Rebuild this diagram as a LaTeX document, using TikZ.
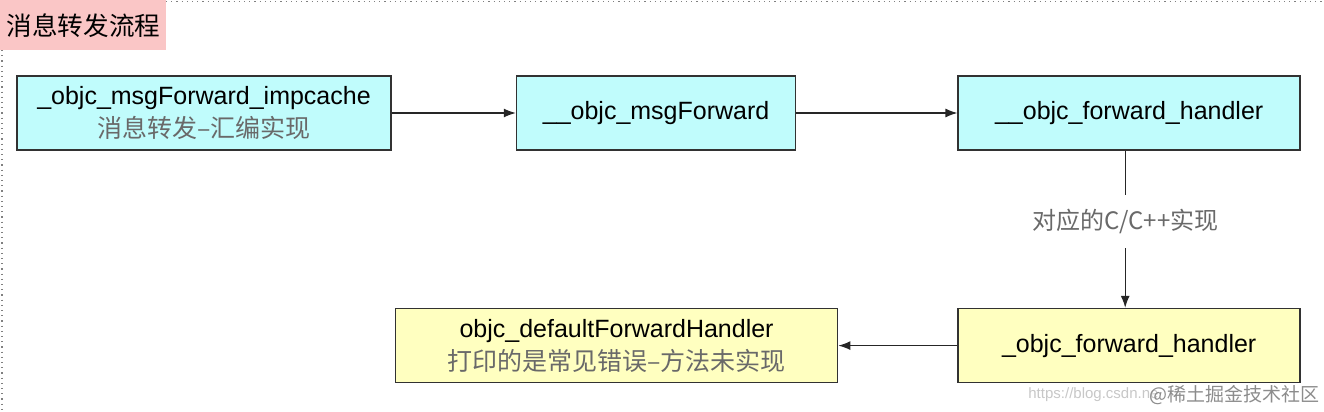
\documentclass[tikz,border=0pt]{standalone}
\usepackage{fontspec}
\setmainfont{Liberation Sans}
\newfontfamily\cjk{Noto Sans CJK SC}
\usepackage{tikz}
\usetikzlibrary{positioning,arrows.meta}
\definecolor{boxcyan}{RGB}{192,252,252}
\definecolor{boxyellow}{RGB}{255,255,192}
\definecolor{tagpink}{RGB}{250,198,198}
\definecolor{subgray}{RGB}{105,105,105}
\definecolor{edgegray}{RGB}{50,50,50}

\begin{document}
\begin{tikzpicture}[x=1pt, y=1pt, box/.style={rectangle, draw = edgegray, line width = .8pt, minimum height = 37pt, inner sep = 0pt, align = center, font = \fontsize{12.5}{16.5}\selectfont}, flow/.style={-{Latex[length=6pt, width=4.5pt]}, line width = .6pt, draw = black!85}]

\useasboundingbox (0,0) rectangle (662,-206);

% frame and title
\draw[dotted, gray, line width = .6pt] (83,-0.6)--(662,-0.6);
\draw[dotted, gray, line width = .6pt] (1,-25)--(1,-206);
\node(title) [rectangle, fill = tagpink, anchor = north west, minimum width = 83pt, minimum height = 25pt, inner sep = 0pt, font = \cjk\fontsize{12.8}{14}\selectfont, text = black] at (0,0) {消息转发流程};

% first row
\node(impcache) [box, fill = boxcyan, minimum width = 187pt] at (102,-56.5) {\_objc\_msgForward\_impcache\\{\cjk\color{subgray}消息转发–汇编实现}};

\node(msgforward) [box, fill = boxcyan, minimum width = 139.5pt, right = 62pt of impcache] {\_\_objc\_msgForward};

\node(forwardhandler) [box, fill = boxcyan, minimum width = 171pt, right = 80.5pt of msgforward] {\_\_objc\_forward\_handler};

% second row
\node(cforwardhandler) [box, fill = boxyellow, minimum width = 171pt, below = 78.5pt of forwardhandler] {\_objc\_forward\_handler};

\node(defaulthandler) [box, fill = boxyellow, minimum width = 221pt, left = 59.5pt of cforwardhandler] {objc\_defaultForwardHandler\\{\cjk\color{subgray}打印的是常见错误–方法未实现}};

\draw[flow] (impcache)--(msgforward);
\draw[flow] (msgforward)--(forwardhandler);
\draw[flow] ([xshift=-2pt]forwardhandler.south)--node[pos = .45, fill = white, inner xsep = 3pt, inner ysep = 7pt, font = \cjk\fontsize{12}{14}\selectfont, text = subgray] {对应的C/C++实现} ([xshift=-2pt]cforwardhandler.north);
\draw[flow] (cforwardhandler)--(defaulthandler);

% watermark
\node(csdn) [anchor = west, font = \fontsize{7.5}{9}\selectfont, text = black!22, inner sep = 0pt] at (514,-197.5) {https://blog.csdn.ne};
\node(juejin) [anchor = east, font = \cjk\fontsize{9.5}{11}\selectfont, text = black!45, inner sep = 0pt] at (660,-197.5) {@稀土掘金技术社区};
\end{tikzpicture}
\end{document}
